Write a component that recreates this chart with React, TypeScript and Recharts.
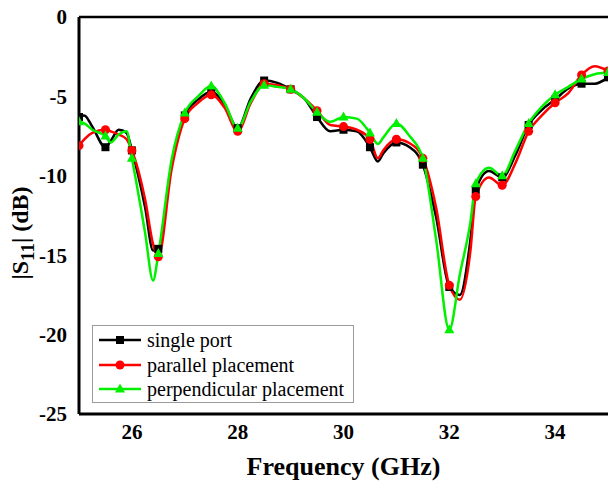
import React from "react";
import { LineChart, Line, XAxis, YAxis, ReferenceLine } from "recharts";

// frequency grid (GHz); markers are drawn on the 0.5 GHz points
const freq = [
  25, 25.1, 25.25, 25.5, 25.6, 25.75, 25.9, 26, 26.25, 26.4, 26.5, 26.75, 27, 27.25, 27.5, 27.75, 28, 28.25,
  28.5, 28.75, 29, 29.25, 29.5, 29.75, 30, 30.25, 30.5, 30.65, 30.75, 31, 31.25, 31.5, 31.75, 32, 32.2, 32.4,
  32.5, 32.75, 33, 33.25, 33.5, 33.75, 34, 34.25, 34.5, 34.75, 35,
];

const singlePort = [
  -6.3, -6.2, -6.9, -8.2, -7.8, -7.1, -7.3, -8.4, -12.0, -14.7, -14.6, -9.3, -6.2, -5.2, -4.7, -5.5, -7.0, -5.1,
  -4.0, -4.15, -4.55, -5.1, -6.3, -7.2, -7.1, -7.2, -8.2, -9.1, -8.6, -7.9, -8.2, -9.3, -12.6, -17.0, -17.5, -14.0,
  -10.9, -9.7, -10.1, -8.7, -6.8, -5.85, -5.2, -4.5, -4.2, -4.2, -3.8,
];

const parallelPlacement = [
  -8.1, -7.7, -7.3, -7.1, -7.2, -7.4, -7.7, -8.4, -11.5, -14.3, -15.1, -9.6, -6.4, -5.4, -4.9, -5.7, -7.2, -5.4,
  -4.2, -4.3, -4.55, -5.1, -5.9, -6.8, -6.9, -7.1, -7.7, -8.9, -8.4, -7.7, -7.95, -8.9, -12.0, -16.9, -17.8, -14.7,
  -11.3, -10.1, -10.6, -9.2, -7.2, -6.2, -5.4, -4.8, -3.65, -3.1, -3.4,
];

const perpendicularPlacement = [
  -6.6, -6.7, -7.1, -7.5, -7.9, -7.4, -7.2, -8.9, -13.6, -16.6, -14.9, -9.0, -6.05, -5.0, -4.35, -5.4, -7.0, -5.3,
  -4.3, -4.4, -4.55, -5.1, -6.0, -6.6, -6.3, -6.4, -7.3, -8.0, -7.6, -6.7, -7.5, -8.9, -14.0, -19.7, -16.2, -12.9,
  -10.5, -9.5, -10.0, -8.4, -6.7, -5.65, -4.9, -4.4, -3.9, -3.6, -3.5,
];

const xTicks = [26, 28, 30, 32, 34];
const yTicks = [0, -5, -10, -15, -20, -25];

const data = freq.map((f, i) => ({
  f,
  single: singlePort[i],
  parallel: parallelPlacement[i],
  perpendicular: perpendicularPlacement[i],
}));

type Marker = "square" | "circle" | "triangle";

const series: { key: string; name: string; color: string; marker: Marker }[] = [
  { key: "single", name: "single port", color: "#000000", marker: "square" },
  { key: "parallel", name: "parallel placement", color: "#ff0000", marker: "circle" },
  { key: "perpendicular", name: "perpendicular placement", color: "#00f000", marker: "triangle" },
];

const font = "'Liberation Serif', 'Times New Roman', serif";

function markerShape(marker: Marker, cx: number, cy: number, color: string) {
  if (marker === "square") return <rect x={cx - 4} y={cy - 4} width={8} height={8} fill={color} />;
  if (marker === "circle") return <circle cx={cx} cy={cy} r={4.5} fill={color} />;
  return <polygon points={`${cx},${cy - 5.5} ${cx - 5},${cy + 3.5} ${cx + 5},${cy + 3.5}`} fill={color} />;
}

function makeDot(color: string, marker: Marker) {
  return (props: any) => {
    const { cx, cy, payload, index } = props;
    const onGrid = Math.abs(payload.f * 2 - Math.round(payload.f * 2)) < 1e-6;
    if (cx == null || cy == null || !onGrid) return <g key={index} />;
    return <g key={index}>{markerShape(marker, cx, cy, color)}</g>;
  };
}

function YLabel() {
  return (
    <text
      transform="translate(28,233) rotate(-90)"
      textAnchor="middle"
      fontFamily={font}
      fontWeight="bold"
      fontSize={24}
      fill="#000"
    >
      |S<tspan dy={6} fontSize={19}>11</tspan>
      <tspan dy={-6}>| (dB)</tspan>
    </text>
  );
}

function LegendBox() {
  return (
    <div
      style={{
        position: "absolute",
        left: 92,
        top: 325,
        width: 262,
        height: 78,
        border: "1px solid #9a9a9a",
        background: "#fff",
        fontFamily: font,
        fontSize: 20,
        boxSizing: "border-box",
        paddingTop: 2,
      }}
    >
      {series.map((s) => (
        <div key={s.key} style={{ display: "flex", alignItems: "center", height: 24.5 }}>
          <svg width={50} height={14} style={{ marginLeft: 4 }}>
            <line x1={2} y1={7} x2={44} y2={7} stroke={s.color} strokeWidth={2.5} />
            {markerShape(s.marker, 23, 7, s.color)}
          </svg>
          <span style={{ lineHeight: "20px" }}>{s.name}</span>
        </div>
      ))}
    </div>
  );
}

export default function App() {
  return (
    <div style={{ position: "absolute", left: 0, top: 0, width: 608, height: 481, background: "#fff" }}>
      <LineChart width={608} height={481} data={data} margin={{ top: 17, right: 0, bottom: 0, left: 0 }}>
        <XAxis
          dataKey="f"
          type="number"
          domain={[25, 35]}
          ticks={xTicks}
          allowDataOverflow
          height={67}
          tickLine={false}
          axisLine={{ stroke: "#000", strokeWidth: 3 }}
          tick={{ fill: "#000", fontFamily: font, fontWeight: "bold", fontSize: 21 }}
          tickMargin={4}
          label={{
            value: "Frequency (GHz)",
            position: "insideBottom",
            offset: 6,
            style: { fill: "#000", fontFamily: font, fontWeight: "bold", fontSize: 26 },
          }}
        />
        <YAxis
          type="number"
          domain={[-25, 0]}
          ticks={yTicks}
          allowDataOverflow
          width={79}
          tickLine={false}
          axisLine={{ stroke: "#000", strokeWidth: 3 }}
          tick={{ fill: "#000", fontFamily: font, fontWeight: "bold", fontSize: 21 }}
          tickMargin={6}
          label={{ content: () => <YLabel /> }}
        />
        <ReferenceLine y={0} stroke="#000" strokeWidth={2.5} />
        {series.map((s) => (
          <Line
            key={s.key}
            dataKey={s.key}
            name={s.name}
            type="monotone"
            stroke={s.color}
            strokeWidth={2.5}
            dot={makeDot(s.color, s.marker)}
            activeDot={false}
            isAnimationActive={false}
          />
        ))}
      </LineChart>
      <LegendBox />
    </div>
  );
}
